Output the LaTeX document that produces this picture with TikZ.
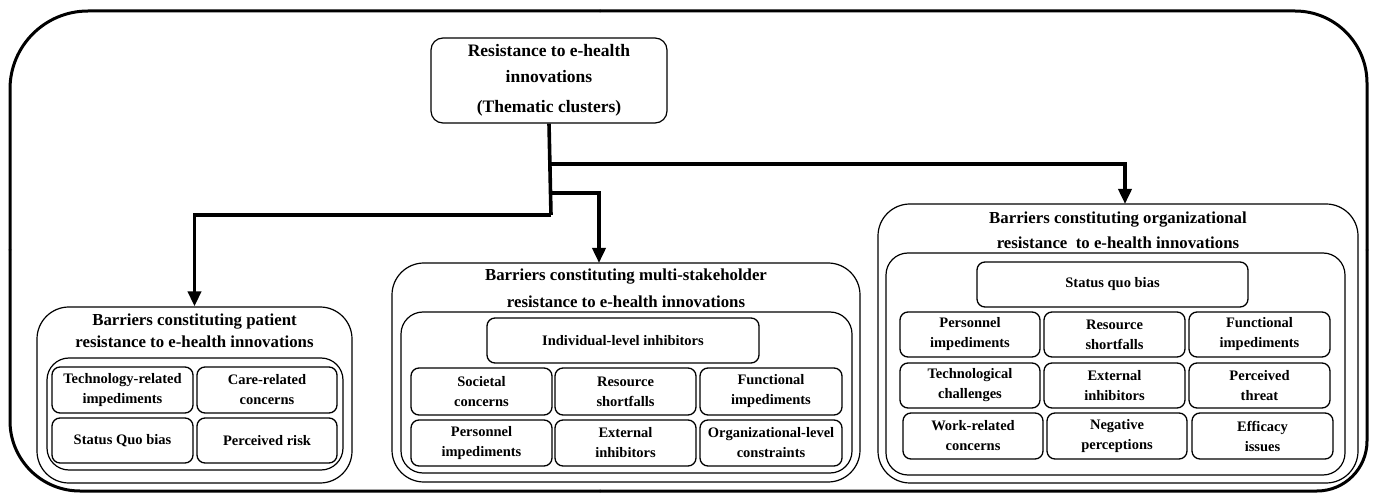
\documentclass[tikz,border=0pt]{standalone}
\usepackage{fontspec}
\setmainfont{Liberation Serif}
\usetikzlibrary{arrows.meta}
\newcommand\bxn[7]{\node[#1, minimum width={(#5-#3)*1pt}, minimum height={(#6-#4)*1pt}] (#2) at ({(#3+#5)/2},{(#4+#6)/2}) {#7};}
\tikzset{
  frame/.style={draw, line width=3pt, line cap=round},
  group/.style={draw, line width=1.2pt, rounded corners=32pt, inner sep=0pt},
  inbox/.style={draw, line width=1.2pt, rounded corners=22pt, inner sep=0pt},
  cell/.style={draw, line width=1.3pt, rounded corners=8pt, inner sep=0pt, align=center,
     font=\fontsize{14.5}{20}\selectfont\bfseries},
  topbox/.style={draw, line width=1.2pt, rounded corners=12pt, inner sep=0pt, align=center,
     font=\fontsize{17.5}{26}\selectfont\bfseries},
  ttl/.style={inner sep=0pt, align=center, font=\fontsize{16.8}{#1}\selectfont\bfseries},
  conn/.style={line width=3.6pt},
  arr/.style={conn, -{Triangle[length=15pt,width=13pt]}}
}
\begin{document}
\begin{tikzpicture}[x=1pt,y=-1pt]
\useasboundingbox (0,0) rectangle (1377,494);
\fill[white] (0,0) rectangle (1377,494);
% outer frame
\coordinate (fl) at (10,250);
\coordinate (ft) at (600,11);
\coordinate (fr) at (1367,250);
\coordinate (fb) at (600,491);
\draw[frame, rounded corners=78pt] (fl) -- (10,11) -- (ft);
\draw[frame, rounded corners=72pt] (ft) -- (1367,11) -- (fr);
\draw[frame, rounded corners=50pt] (fr) -- (1367,491) -- (fb);
\draw[frame, rounded corners=70pt] (fb) -- (10,491) -- (fl);
% top box
\bxn{topbox}{top}{431}{38}{667}{123}{Resistance to e-health\\innovations\\[4pt](Thematic clusters)}
% patient group
\bxn{group}{pat}{37}{307}{352}{483}{}
\node[ttl=22pt] (patt) at (194.5,331) {Barriers constituting patient\\resistance to e-health innovations};
\bxn{inbox}{pati}{47}{358}{343}{470}{}
\bxn{cell}{p1}{52}{367}{193}{413}{Technology-related\\impediments}
\bxn{cell}{p2}{197}{367}{337}{413}{Care-related\\concerns}
\bxn{cell}{p3}{52}{418}{193}{463}{Status Quo bias}
\bxn{cell}{p4}{197}{418}{337}{463}{Perceived risk}
% multi-stakeholder group
\bxn{group}{mul}{392}{263}{860}{482}{}
\node[ttl=27pt] (mult) at (626,288.5) {Barriers constituting multi-stakeholder\\resistance to e-health innovations};
\bxn{inbox}{muli}{401}{312}{852}{473}{}
\bxn{cell}{m0}{487}{318}{759}{363}{Individual-level inhibitors}
\bxn{cell}{m1}{411}{368}{552}{415}{Societal\\concerns}
\bxn{cell}{m2}{555}{368}{696}{415}{Resource\\shortfalls}
\bxn{cell}{m3}{700}{368}{842}{415}{Functional\\impediments}
\bxn{cell}{m4}{411}{420}{552}{466}{Personnel\\impediments}
\bxn{cell}{m5}{555}{420}{696}{466}{External\\inhibitors}
\bxn{cell}{m6}{700}{420}{842}{466}{Organizational-level\\constraints}
% organizational group
\bxn{group}{org}{878}{204}{1358}{483}{}
\node[ttl=25pt] (orgt) at (1118,230.5) {Barriers constituting organizational\\resistance\ \ to e-health innovations};
\bxn{inbox}{orgi}{886}{253}{1345}{475}{}
\bxn{cell}{o0}{977}{262}{1248}{307}{Status quo bias}
\bxn{cell}{o1}{900}{312}{1040}{357}{Personnel\\impediments}
\bxn{cell}{o2}{1044}{312}{1185}{357}{Resource\\shortfalls}
\bxn{cell}{o3}{1189}{312}{1330}{357}{Functional\\impediments}
\bxn{cell}{o4}{900}{363}{1040}{408}{Technological\\challenges}
\bxn{cell}{o5}{1044}{363}{1185}{408}{External\\inhibitors}
\bxn{cell}{o6}{1189}{363}{1330}{408}{Perceived\\threat}
\bxn{cell}{o7}{903}{413}{1043}{459}{Work-related\\concerns}
\bxn{cell}{o8}{1047}{413}{1187}{459}{Negative\\perceptions}
\bxn{cell}{o9}{1192}{413}{1333}{459}{Efficacy\\issues}
% connectors
\coordinate (j1) at (551,164);
\coordinate (j2) at (551,193);
\coordinate (j3) at (551,215);
\coordinate (ma) at (599,263);
\coordinate (oa) at (1125,204);
\draw[conn] (top.south) -- (j3);
\draw[arr] (j3) -| (pat.north);
\draw[arr] (j2) -| (ma);
\draw[arr] (j1) -| (oa);
\end{tikzpicture}
\end{document}
